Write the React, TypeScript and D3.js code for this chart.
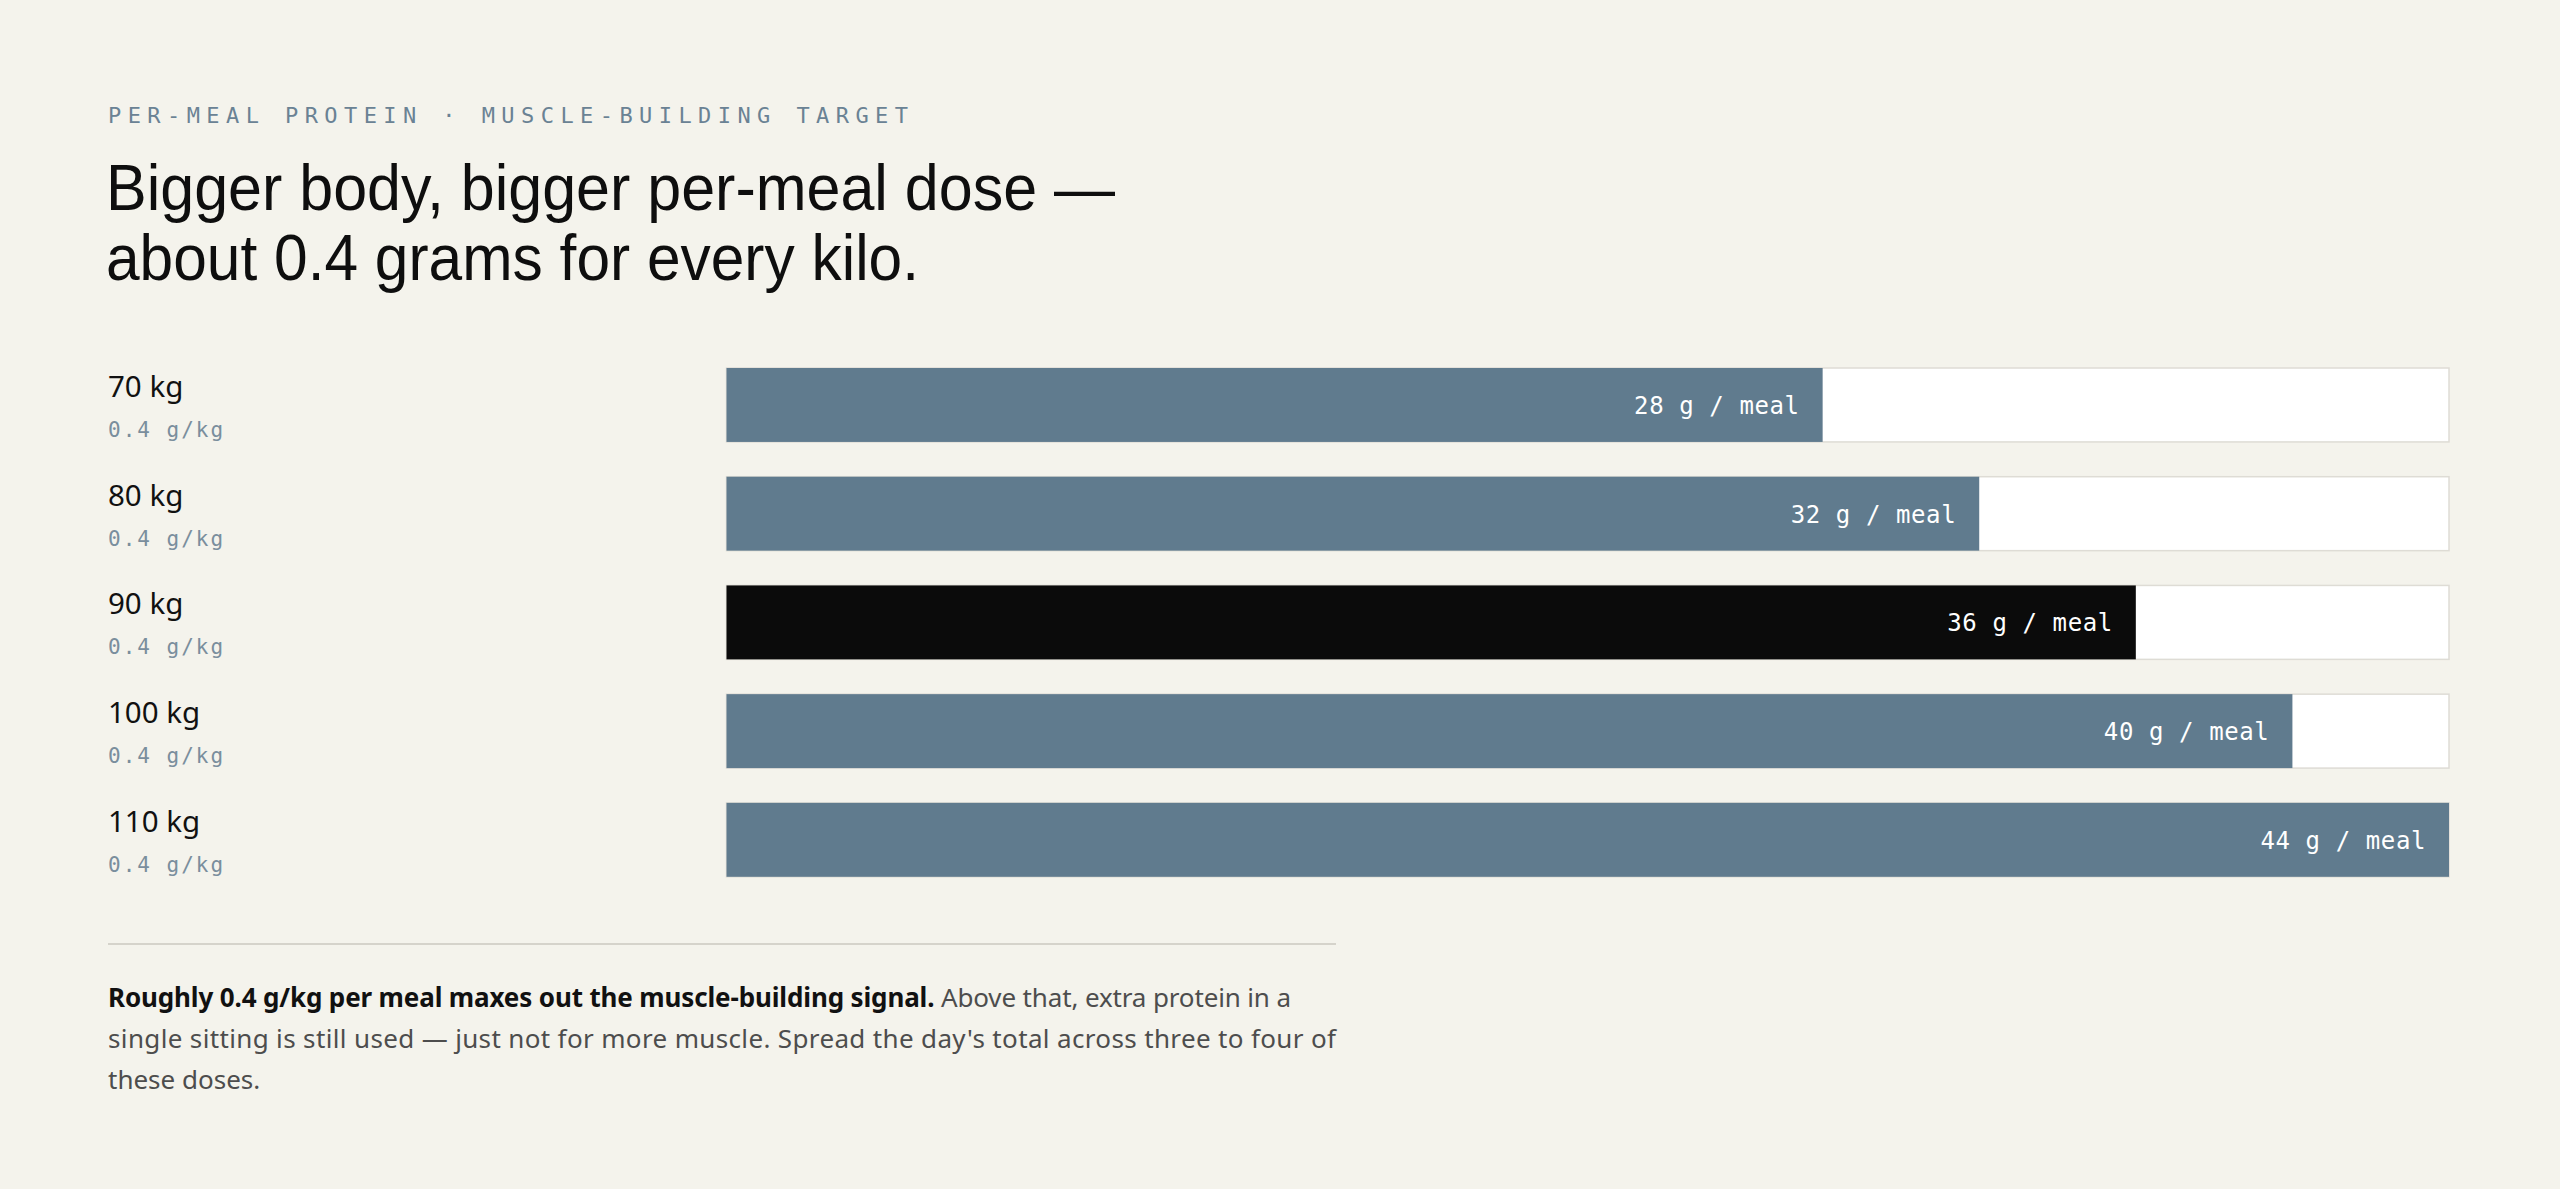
import React, { useEffect } from "react";
import * as d3 from "d3";

const eyebrow = "PER-MEAL PROTEIN · MUSCLE-BUILDING TARGET";
const titleLines = ["Bigger body, bigger per-meal dose —", "about 0.4 grams for every kilo."];
const weights = ["70 kg", "80 kg", "90 kg", "100 kg", "110 kg"];
const ratios = ["0.4 g/kg", "0.4 g/kg", "0.4 g/kg", "0.4 g/kg", "0.4 g/kg"];
const grams = [28, 32, 36, 40, 44];
const highlight = "90 kg";
const maxGrams = 44;
const noteBold = "Roughly 0.4 g/kg per meal maxes out the muscle-building signal.";
const noteLines = [
  " Above that, extra protein in a",
  "single sitting is still used — just not for more muscle. Spread the day's total across three to four of",
  "these doses.",
];

const W = 2560;
const H = 1189;
const BG = "#f4f3ec";
const SLATE = "#607b8e";
const MONO = "'DejaVu Sans Mono', 'Liberation Mono', monospace";
const SANS = "'Noto Sans', 'Open Sans', sans-serif";
const DISPLAY = "'Liberation Sans', Arial, sans-serif";

export default function App() {
  useEffect(() => {
    document.body.style.margin = "0";
    document.body.style.background = BG;
  }, []);

  const left = 108;
  const trackX0 = 726.5;
  const trackX1 = 2449;
  const x = d3.scaleLinear().domain([0, maxGrams]).range([trackX0, trackX1]);
  const y = d3
    .scaleBand<string>()
    .domain(weights)
    .range([368, 368 + 4 * 108.7 + 74])
    .paddingInner(0.32)
    .paddingOuter(0);
  const bh = y.bandwidth();

  return (
    <svg width={W} height={H} style={{ display: "block", background: BG }}>
      <rect x={0} y={0} width={W} height={H} fill={BG} />
      <text
        x={left}
        y={123}
        fontFamily={MONO}
        fontSize={22}
        fill="#6a8294"
        textLength={800}
        lengthAdjust="spacing"
      >
        {eyebrow}
      </text>
      {titleLines.map((t, i) => (
        <text
          key={t}
          x={left - 2}
          y={210 + i * 70}
          fontFamily={DISPLAY}
          fontSize={65}
          fill="#0e0e0e"
          textLength={i === 0 ? 1009 : 813}
          lengthAdjust="spacingAndGlyphs"
        >
          {t}
        </text>
      ))}

      {weights.map((w, i) => {
        const top = y(w) as number;
        const isHi = w === highlight;
        return (
          <g key={w}>
            <text x={left} y={top + 29} fontFamily={SANS} fontSize={29.5} fill="#111">
              {w}
            </text>
            <text x={left} y={top + 69} fontFamily={MONO} fontSize={21} fill="#7a8e9d" letterSpacing={2}>
              {ratios[i]}
            </text>
            <rect
              x={trackX0}
              y={top}
              width={trackX1 - trackX0}
              height={bh}
              fill="#ffffff"
              stroke="#dedcd5"
              strokeWidth={1.5}
            />
            <rect
              x={trackX0}
              y={top}
              width={x(grams[i]) - trackX0}
              height={bh}
              fill={isHi ? "#0b0b0b" : SLATE}
            />
            <text
              x={x(grams[i]) - 23}
              y={top + bh / 2 + 9}
              textAnchor="end"
              fontFamily={MONO}
              fontSize={24}
              fill="#ffffff"
              letterSpacing={0.6}
            >
              {`${grams[i]} g / meal`}
            </text>
          </g>
        );
      })}

      <line x1={left} x2={1336} y1={944} y2={944} stroke="#d5d3cb" strokeWidth={2} />
      <text fontFamily={SANS} fontSize={26} fill="#4d4d4d" x={left} y={1007} textLength={1183} lengthAdjust="spacing">
        <tspan fontWeight={700} fill="#111">
          {noteBold}
        </tspan>
        <tspan>{noteLines[0]}</tspan>
      </text>
      <text fontFamily={SANS} fontSize={26} fill="#4d4d4d" x={left} y={1048} textLength={1228} lengthAdjust="spacing">
        {noteLines[1]}
      </text>
      <text fontFamily={SANS} fontSize={26} fill="#4d4d4d" x={left} y={1089}>
        {noteLines[2]}
      </text>
    </svg>
  );
}
